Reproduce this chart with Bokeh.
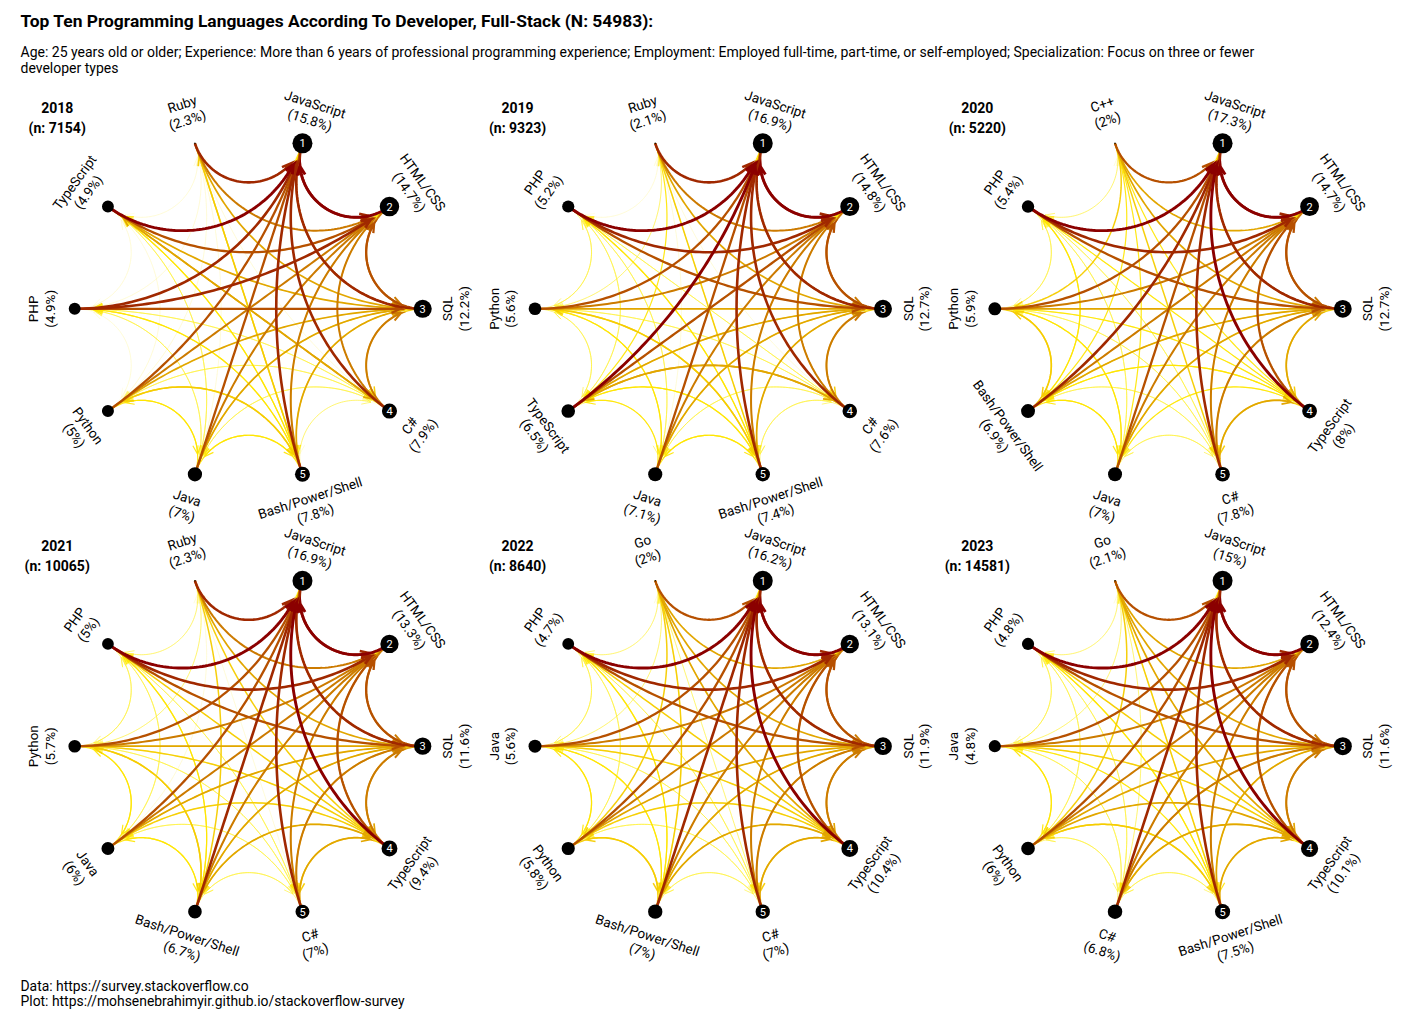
import numpy as np
from bokeh.plotting import figure
from bokeh.models import Range1d, ColumnDataSource
from bokeh.embed import file_html
from bokeh.resources import INLINE
from bokeh.core.properties import value

# ---------------- data ----------------
TITLE = "Top Ten Programming Languages According To  Developer, Full-Stack (N: 54983):"
SUBTITLE_1 = ("Age: 25 years old or older; Experience: More than 6 years of professional programming experience; "
              "Employment: Employed full-time, part-time, or self-employed; Specialization: Focus on three or fewer")
SUBTITLE_2 = "developer types"
CAPTION_1 = "Data: https://survey.stackoverflow.co"
CAPTION_2 = "Plot: https://mohsenebrahimyir.github.io/stackoverflow-survey"

years = [2018, 2019, 2020, 2021, 2022, 2023]
respondents = [7154, 9323, 5220, 10065, 8640, 14581]

langs_2018 = ["JavaScript", "HTML/CSS", "SQL", "C#", "Bash/Power/Shell", "Java", "Python", "PHP", "TypeScript", "Ruby"]
share_2018 = [15.8, 14.7, 12.2, 7.9, 7.8, 7, 5, 4.9, 4.9, 2.3]
langs_2019 = ["JavaScript", "HTML/CSS", "SQL", "C#", "Bash/Power/Shell", "Java", "TypeScript", "Python", "PHP", "Ruby"]
share_2019 = [16.9, 14.8, 12.7, 7.6, 7.4, 7.1, 6.5, 5.6, 5.2, 2.1]
langs_2020 = ["JavaScript", "HTML/CSS", "SQL", "TypeScript", "C#", "Java", "Bash/Power/Shell", "Python", "PHP", "C++"]
share_2020 = [17.3, 14.7, 12.7, 8, 7.8, 7, 6.9, 5.9, 5.4, 2]
langs_2021 = ["JavaScript", "HTML/CSS", "SQL", "TypeScript", "C#", "Bash/Power/Shell", "Java", "Python", "PHP", "Ruby"]
share_2021 = [16.9, 13.3, 11.6, 9.4, 7, 6.7, 6, 5.7, 5, 2.3]
langs_2022 = ["JavaScript", "HTML/CSS", "SQL", "TypeScript", "C#", "Bash/Power/Shell", "Python", "Java", "PHP", "Go"]
share_2022 = [16.2, 13.1, 11.9, 10.4, 7, 7, 5.8, 5.6, 4.7, 2]
langs_2023 = ["JavaScript", "HTML/CSS", "SQL", "TypeScript", "Bash/Power/Shell", "C#", "Python", "Java", "PHP", "Go"]
share_2023 = [15, 12.4, 11.6, 10.1, 7.5, 6.8, 6, 4.8, 4.8, 2.1]

# directed link strength (row = from, column = to), levels 0-9, in rank order
links_2018 = ["x863322331", "9x63322331", "87x4332321", "866x122251", "8652x34334",
              "76523x3221", "765243x111", "8872321x11", "97553211x1", "865141111x"]
links_2019 = ["x863323231", "9x63323231", "87x4333231", "866x225221", "8652x33432",
              "76523x3321", "975532x221", "7652432x21", "98723222x1", "865141321x"]
links_2020 = ["x864323231", "9x64323231", "87x4433231", "975x423221", "8665x22221",
              "76532x3321", "865323x431", "7653234x21", "98732232x1", "755343342x"]
links_2021 = ["x865332231", "9x65332231", "87x5433231", "976x432221", "8665x22221",
              "86552x3431", "765423x321", "7654243x21", "98742322x1", "865414122x"]
links_2022 = ["x865332231", "9x65332231", "87x5432331", "976x432222", "8665x22221",
              "86552x4332", "765424x321", "7654233x21", "98742322x1", "755524422x"]
links_2023 = ["x865332231", "9x65332231", "87x5342331", "976x342222", "8655x24232",
              "86652x2221", "765542x321", "7654323x21", "98743222x1", "755542422x"]

panels = [
    (langs_2018, share_2018, links_2018),
    (langs_2019, share_2019, links_2019),
    (langs_2020, share_2020, links_2020),
    (langs_2021, share_2021, links_2021),
    (langs_2022, share_2022, links_2022),
    (langs_2023, share_2023, links_2023),
]

# ---------------- styling ----------------
FONT = "Roboto"
LEVEL_COLORS = ["#FFFFD0", "#FFF59A", "#FFF23C", "#FFE500", "#F6CC00", "#E2A600",
                "#CC7A00", "#B65000", "#A02800", "#8B0000"]
LEVEL_ALPHA = [0.15, 0.35, 0.75, 0.9, 0.95, 1, 1, 1, 1, 1]
LEVEL_WIDTH = [0.4, 0.6, 0.9, 1.2, 1.5, 1.7, 2.0, 2.3, 2.6, 2.9]

COL_X = [248.2, 708.5, 1168.3]
ROW_Y = [308.3, 745.7]
R = 174.0
LABEL_OFF = 33.0

W, H = 1409, 1015
p = figure(width=W, height=H, output_backend="svg", toolbar_location=None,
           x_range=Range1d(0, W), y_range=Range1d(-H, 0),
           min_border=0)
p.axis.visible = False
p.xgrid.visible = False
p.ygrid.visible = False
p.outline_line_color = None
p.background_fill_color = "white"
p.border_fill_color = "white"


def norm_angle(a):
    return (a + np.pi) % (2 * np.pi) - np.pi


def arc_path(ax, ay, bx, by, cx, cy, n=80):
    ta = np.arctan2(ay - cy, ax - cx)
    tb = np.arctan2(by - cy, bx - cx)
    d = norm_angle(tb - ta)
    delta = abs(d)
    if abs(delta - np.pi) < 1e-3:
        t = np.linspace(0, 1, n)
        return ax + (bx - ax) * t, ay + (by - ay) * t
    mid = ta + d / 2
    dist = R / np.cos(delta / 2)
    ox, oy = cx + dist * np.cos(mid), cy + dist * np.sin(mid)
    rho = R * np.tan(delta / 2)
    pa = np.arctan2(ay - oy, ax - ox)
    pb = np.arctan2(by - oy, bx - ox)
    dp = norm_angle(pb - pa)
    ph = pa + dp * np.linspace(0, 1, n)
    return ox + rho * np.cos(ph), oy + rho * np.sin(ph)


edges = []  # (level, path xs, path ys)
node_x, node_y, node_d = [], [], []
rank_x, rank_y, rank_t = [], [], []
lab_x, lab_y, lab_t, lab_a = [], [], [], []
head_x, head_y, head_t = [], [], []

for k, (langs, shares, links) in enumerate(panels):
    cx = COL_X[k % 3]
    cy = -ROW_Y[k // 3]
    n = len(langs)
    theta = np.deg2rad(72 - 36 * np.arange(n))
    px = cx + R * np.cos(theta)
    py = cy + R * np.sin(theta)
    sh = np.array(shares, dtype=float)
    d = 1.5 + 18.5 * ((sh - sh.min()) / (sh.max() - sh.min())) ** 0.35

    for i in range(n):
        for j in range(n):
            if i == j:
                continue
            lvl = int(links[i][j])
            xs, ys = arc_path(px[i], py[i], px[j], py[j], cx, cy)
            cap = 13 + d[j] / 2
            dist = np.hypot(xs - px[j], ys - py[j])
            idx = np.where(dist < cap)[0][0]
            x0, y0, x1, y1 = xs[idx - 1], ys[idx - 1], xs[idx], ys[idx]
            d0, d1 = dist[idx - 1], dist[idx]
            f = (d0 - cap) / (d0 - d1)
            tx, ty = x0 + f * (x1 - x0), y0 + f * (y1 - y0)
            ex = list(np.append(xs[:idx], tx))
            ey = list(np.append(ys[:idx], ty))
            ux, uy = ex[-1] - ex[-4], ey[-1] - ey[-4]
            L = np.hypot(ux, uy)
            ux, uy = ux / L, uy / L
            al = 9.0
            hw = al * np.tan(np.deg2rad(24))
            bxp, byp = tx - al * ux, ty - al * uy
            # open arrow head drawn as part of the same path
            ex += [bxp - hw * uy, tx, bxp + hw * uy]
            ey += [byp + hw * ux, ty, byp - hw * ux]
            edges.append((lvl, ex, ey))

    for i in range(n):
        node_x.append(px[i]); node_y.append(py[i]); node_d.append(d[i])
        if i < 5:
            rank_x.append(px[i]); rank_y.append(py[i]); rank_t.append(str(i + 1))
        lab_x.append(px[i] + LABEL_OFF * np.cos(theta[i]))
        lab_y.append(py[i] + LABEL_OFF * np.sin(theta[i]))
        lab_t.append(f"{langs[i]}\n({shares[i]:g}%)")
        a = np.rad2deg(theta[i]) - 90
        while a <= -90:
            a += 180
        while a > 90:
            a -= 180
        lab_a.append(np.deg2rad(a))

    head_x += [cx - 191.5, cx - 191.5]
    head_y += [cy + 201.0, cy + 180.6]
    head_t += [str(years[k]), f"(n: {respondents[k]})"]

edges.sort(key=lambda e: e[0])
exs = [e[1] for e in edges]
eys = [e[2] for e in edges]
ecol = [LEVEL_COLORS[e[0]] for e in edges]
ealpha = [LEVEL_ALPHA[e[0]] for e in edges]
ewid = [LEVEL_WIDTH[e[0]] for e in edges]

p.multi_line(xs="xs", ys="ys", line_color="c", line_alpha="a", line_width="w",
             line_join="miter", line_cap="butt",
             source=ColumnDataSource(dict(xs=exs, ys=eys, c=ecol, a=ealpha, w=ewid)))

p.scatter(x=node_x, y=node_y, size=node_d, fill_color="black", line_color=None)
p.text(x=rank_x, y=rank_y, text=rank_t, text_color="white", text_font=value(FONT),
       text_font_size="11px", text_align="center", text_baseline="middle")
p.text(x=lab_x, y=lab_y, text=lab_t, angle=lab_a, text_color="black", text_font=value(FONT),
       text_font_size="13.5px", text_align="center", text_baseline="middle", text_line_height=1.05)
p.text(x=head_x, y=head_y, text=head_t, text_color="black", text_font=value(FONT),
       text_font_size="14px", text_font_style="bold", text_align="center", text_baseline="middle")

p.text(x=[20], y=[-20], text=[TITLE], text_font=value(FONT), text_font_size="17.4px",
       text_font_style="bold", text_align="left", text_baseline="middle", text_color="black")
p.text(x=[20, 20], y=[-51, -67], text=[SUBTITLE_1, SUBTITLE_2], text_font=value(FONT),
       text_font_size="14px", text_align="left", text_baseline="middle", text_color="black")
p.text(x=[20, 20], y=[-985, -1000], text=[CAPTION_1, CAPTION_2], text_font=value(FONT),
       text_font_size="13.9px", text_align="left", text_baseline="middle", text_color="black")

open("out.html", "w").write(file_html(p, INLINE))
